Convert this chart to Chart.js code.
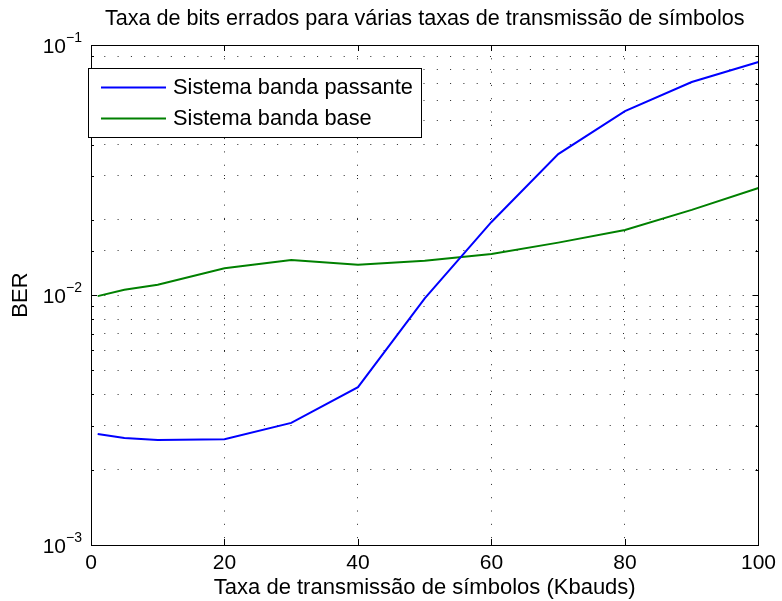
<!DOCTYPE html>
<html>
<head>
<meta charset="utf-8">
<script src="https://cdn.jsdelivr.net/npm/chart.js@4/dist/chart.umd.min.js"></script>
<style>
html, body { margin: 0; padding: 0; background: #fff; }
</style>
</head>
<body>
<canvas id="ber-chart" width="782" height="601"></canvas>
<script>
// data
const taxas = [1, 5, 10, 20, 30, 40, 50, 60, 70, 80, 90, 100];
const berPassante = [0.00278, 0.00268, 0.00263, 0.00265, 0.00308, 0.00428, 0.0097, 0.0196, 0.0366, 0.0544, 0.0711, 0.0855];
const berBase = [0.0099, 0.0105, 0.0110, 0.0128, 0.0138, 0.0132, 0.0137, 0.0146, 0.0162, 0.0182, 0.0219, 0.0268];
const xTicks = [0, 20, 40, 60, 80, 100];
const yDecades = [-3, -2, -1];

const FONT = '"Liberation Sans", Arial, Helvetica, sans-serif';

function isDecade(v) {
  const l = Math.log10(v);
  return Math.abs(l - Math.round(l)) < 1e-6;
}

// MATLAB style box, inward ticks, exponent labels and legend
const matlabAxes = {
  id: 'matlabAxes',
  afterDraw(chart) {
    const { ctx, chartArea: a, scales: { x, y } } = chart;
    ctx.save();
    ctx.strokeStyle = '#000';
    ctx.lineWidth = 1;
    ctx.beginPath();
    x.ticks.forEach(t => {
      const px = Math.round(x.getPixelForValue(t.value)) + 0.5;
      ctx.moveTo(px, a.bottom); ctx.lineTo(px, a.bottom - 6);
      ctx.moveTo(px, a.top); ctx.lineTo(px, a.top + 6);
    });
    y.ticks.forEach(t => {
      const py = Math.round(y.getPixelForValue(t.value)) + 0.5;
      const len = isDecade(t.value) ? 6 : 3;
      ctx.moveTo(a.left, py); ctx.lineTo(a.left + len, py);
      ctx.moveTo(a.right, py); ctx.lineTo(a.right - len, py);
    });
    ctx.stroke();
    ctx.strokeRect(Math.round(a.left) + 0.5, Math.round(a.top) + 0.5, Math.round(a.right - a.left), Math.round(a.bottom - a.top));

    // y labels 10^k
    ctx.fillStyle = '#000';
    ctx.textBaseline = 'alphabetic';
    yDecades.forEach(k => {
      const py = y.getPixelForValue(Math.pow(10, k));
      ctx.font = '14px ' + FONT;
      ctx.textAlign = 'left';
      ctx.fillText('\u2212' + Math.abs(k), 66, py - 3.5);
      ctx.font = '21px ' + FONT;
      ctx.textAlign = 'right';
      ctx.fillText('10', 66, py + 8.3);
    });

    // legend
    const lx = 88, ly = 68, lw = 333, lh = 69;
    ctx.fillStyle = '#fff';
    ctx.fillRect(lx, ly, lw, lh);
    ctx.strokeStyle = '#000';
    ctx.lineWidth = 1;
    ctx.strokeRect(lx + 0.5, ly + 0.5, lw, lh);
    chart.data.datasets.forEach((ds, i) => {
      const yy = 87.5 + i * 31;
      ctx.strokeStyle = ds.borderColor;
      ctx.lineWidth = 2;
      ctx.beginPath();
      ctx.moveTo(101, yy); ctx.lineTo(166, yy);
      ctx.stroke();
      ctx.fillStyle = '#000';
      ctx.font = '21.8px ' + FONT;
      ctx.textAlign = 'left';
      ctx.textBaseline = 'middle';
      ctx.fillText(ds.label, 173, yy);
    });
    ctx.restore();
  }
};

const gridStyle = {
  color: 'rgba(0,0,0,0.85)',
  lineWidth: 1,
  drawTicks: false
};

new Chart(document.getElementById('ber-chart').getContext('2d'), {
  type: 'line',
  data: {
    labels: taxas,
    datasets: [
      { label: 'Sistema banda passante', data: taxas.map((t, i) => ({ x: t, y: berPassante[i] })), borderColor: '#0000ff', borderWidth: 2, pointRadius: 0, tension: 0 },
      { label: 'Sistema banda base', data: taxas.map((t, i) => ({ x: t, y: berBase[i] })), borderColor: '#008000', borderWidth: 2, pointRadius: 0, tension: 0 }
    ]
  },
  options: {
    responsive: false,
    animation: false,
    devicePixelRatio: 1,
    layout: { padding: { left: 0, right: 22, top: 0, bottom: 0 } },
    plugins: {
      legend: { display: false },
      tooltip: { enabled: false },
      title: {
        display: true,
        fullSize: false,
        text: 'Taxa de bits errados para várias taxas de transmissão de símbolos',
        color: '#000',
        font: { family: FONT, size: 21.6, weight: 'normal' },
        padding: { top: 6.5, bottom: 12.6 }
      }
    },
    scales: {
      x: {
        type: 'linear',
        min: 0,
        max: 100,
        afterBuildTicks: s => { s.ticks = xTicks.map(v => ({ value: v })); },
        afterFit: s => { s.height = 56; },
        grid: gridStyle,
        border: { display: false, dash: [1, 12.3] },
        ticks: { color: '#000', font: { family: FONT, size: 21 }, padding: 6, maxRotation: 0 },
        title: { display: true, text: 'Taxa de transmissão de símbolos (Kbauds)', color: '#000', font: { family: FONT, size: 22 }, padding: { top: 0, bottom: 0 } }
      },
      y: {
        type: 'logarithmic',
        min: 0.001,
        max: 0.1,
        afterFit: s => { s.width = 91; },
        grid: gridStyle,
        border: { display: false, dash: [1, 12.3] },
        ticks: { display: false },
        title: { display: true, text: 'BER', color: '#000', font: { family: FONT, size: 22 }, padding: { top: 8, bottom: 0 } }
      }
    }
  },
  plugins: [matlabAxes]
});
</script>
</body>
</html>
